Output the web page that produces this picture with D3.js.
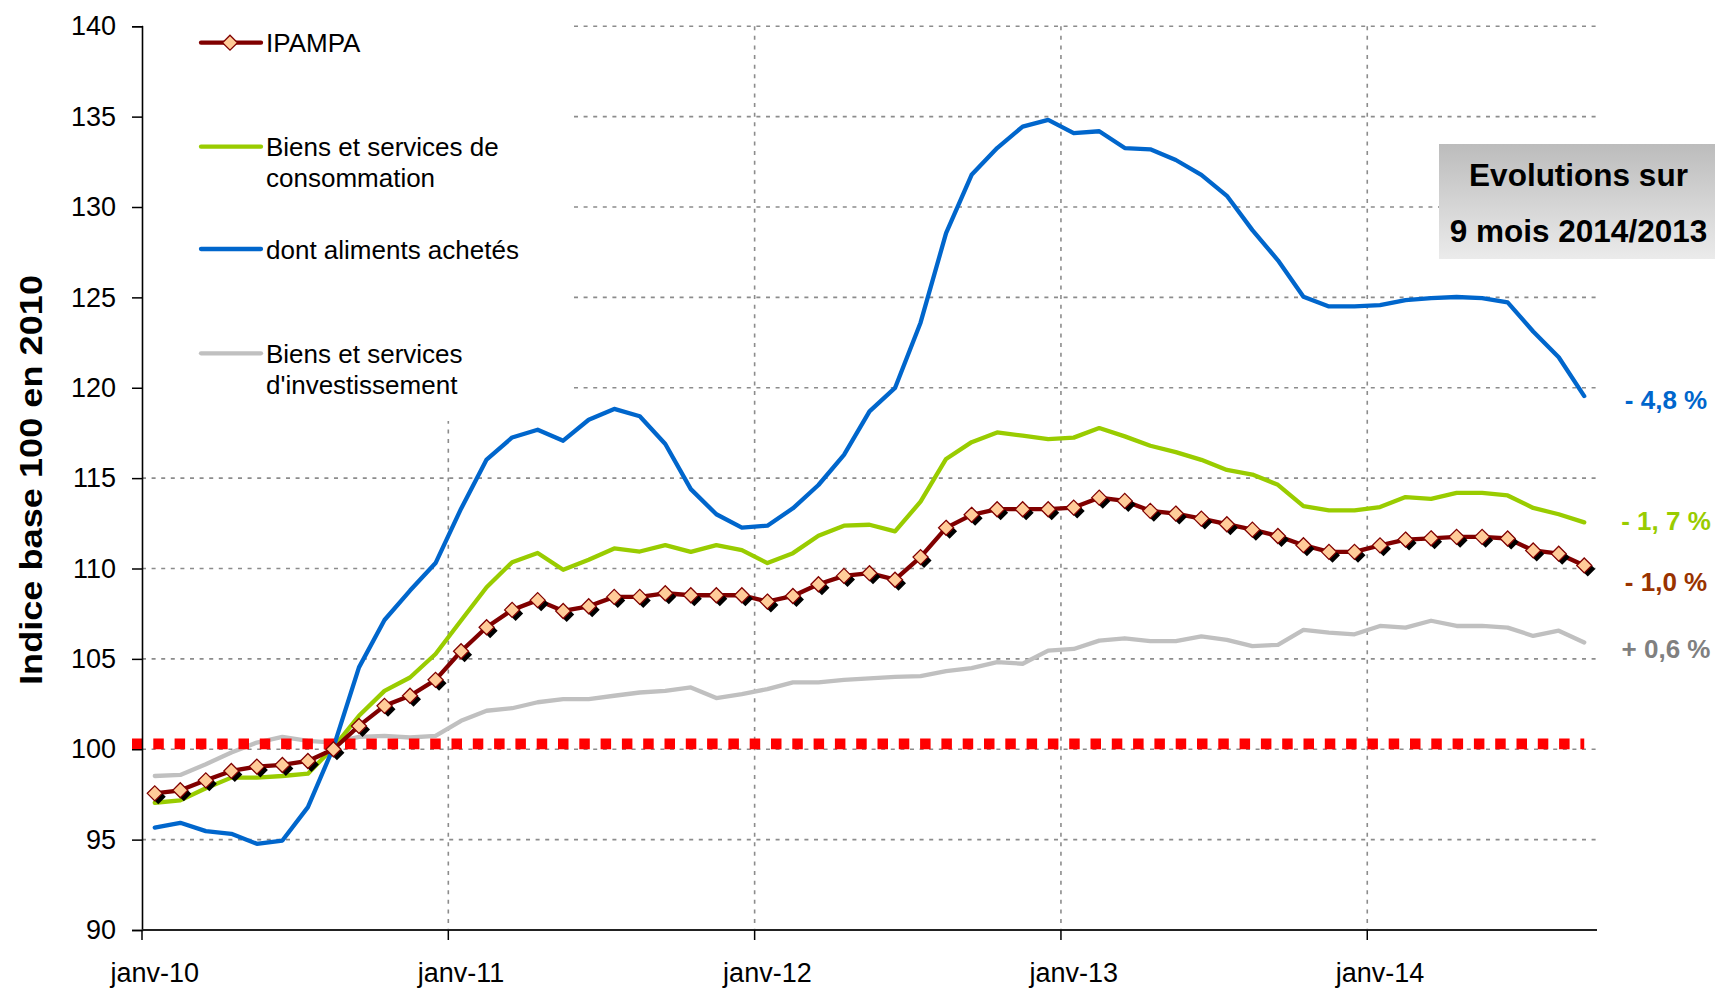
<!DOCTYPE html>
<html>
<head>
<meta charset="utf-8">
<script src="https://cdn.jsdelivr.net/npm/d3@7"></script>
<style>
  html, body { margin: 0; padding: 0; background: #fff; }
  svg { display: block; font-family: "Liberation Sans", Arial, sans-serif; }
</style>
</head>
<body>
<svg id="chart" width="1715" height="989"></svg>
<script>
// ---------------- DATA ----------------
const categories = [
  "janv-10","févr-10","mars-10","avr-10","mai-10","juin-10","juil-10","août-10","sept-10","oct-10","nov-10","déc-10",
  "janv-11","févr-11","mars-11","avr-11","mai-11","juin-11","juil-11","août-11","sept-11","oct-11","nov-11","déc-11",
  "janv-12","févr-12","mars-12","avr-12","mai-12","juin-12","juil-12","août-12","sept-12","oct-12","nov-12","déc-12",
  "janv-13","févr-13","mars-13","avr-13","mai-13","juin-13","juil-13","août-13","sept-13","oct-13","nov-13","déc-13",
  "janv-14","févr-14","mars-14","avr-14","mai-14","juin-14","juil-14","août-14","sept-14"
];

const ipampa = [
  97.56, 97.73, 98.28, 98.80, 99.04, 99.13, 99.35, 100.0, 101.29, 102.40, 102.96, 103.84,
  105.42, 106.75, 107.71, 108.25, 107.65, 107.91, 108.43, 108.43, 108.63, 108.52, 108.52, 108.52,
  108.17, 108.48, 109.13, 109.59, 109.74, 109.38, 110.63, 112.25, 112.97, 113.28, 113.28, 113.28,
  113.37, 113.92, 113.74, 113.19, 113.04, 112.76, 112.45, 112.15, 111.80, 111.29, 110.92, 110.92,
  111.28, 111.60, 111.67, 111.75, 111.75, 111.66, 111.00, 110.82, 110.17
];

const consommation = [
  97.04, 97.17, 97.84, 98.43, 98.43, 98.52, 98.65, 100.10, 101.85, 103.23, 103.97, 105.27,
  107.12, 108.96, 110.35, 110.86, 109.93, 110.48, 111.11, 110.94, 111.29, 110.92, 111.29, 111.02,
  110.30, 110.85, 111.81, 112.37, 112.42, 112.05, 113.70, 116.06, 116.99, 117.53, 117.35, 117.16,
  117.24, 117.77, 117.31, 116.79, 116.44, 116.01, 115.45, 115.20, 114.63, 113.45, 113.22, 113.22,
  113.40, 113.95, 113.85, 114.18, 114.18, 114.04, 113.35, 113.00, 112.55
];

const aliments = [
  95.66, 95.93, 95.47, 95.32, 94.77, 94.95, 96.80, 100.10, 104.53, 107.15, 108.78, 110.30,
  113.31, 116.03, 117.25, 117.68, 117.07, 118.23, 118.83, 118.42, 116.89, 114.39, 113.00, 112.26,
  112.37, 113.33, 114.62, 116.29, 118.69, 119.99, 123.60, 128.55, 131.78, 133.26, 134.45, 134.82,
  134.09, 134.19, 133.26, 133.19, 132.60, 131.78, 130.62, 128.72, 127.05, 125.04, 124.50, 124.50,
  124.57, 124.85, 124.96, 125.02, 124.96, 124.72, 123.11, 121.69, 119.54
];

const investissement = [
  98.52, 98.58, 99.17, 99.82, 100.37, 100.68, 100.46, 100.37, 100.68, 100.74, 100.65, 100.74,
  101.57, 102.13, 102.27, 102.60, 102.77, 102.77, 102.96, 103.14, 103.23, 103.42, 102.83, 103.05,
  103.33, 103.70, 103.70, 103.84, 103.92, 104.00, 104.05, 104.32, 104.49, 104.82, 104.73, 105.46,
  105.55, 106.01, 106.14, 105.98, 105.98, 106.24, 106.05, 105.71, 105.78, 106.60, 106.45, 106.36,
  106.82, 106.73, 107.11, 106.82, 106.82, 106.73, 106.27, 106.56, 105.91
];

const yTicks = [90, 95, 100, 105, 110, 115, 120, 125, 130, 135, 140];
const xTickLabels = ["janv-10", "janv-11", "janv-12", "janv-13", "janv-14"];
const refLevel = 100.3;

const seriesNames = ["IPAMPA", "Biens et services de consommation", "dont aliments achetés", "Biens et services d'investissement"];
const legendLabels = [["IPAMPA"], ["Biens et services de", "consommation"], ["dont aliments achetés"], ["Biens et services", "d'investissement"]];
const boxLines = ["Evolutions sur", "9 mois 2014/2013"];
const endLabels = ["- 4,8 %", "- 1, 7 %", "- 1,0 %", "+ 0,6 %"];
const endLabelLevels = [118.82, 112.12, 108.76, 105.07];

// ---------------- DRAWING ----------------
(function () {
  const W = 1715, H = 989;
  const pLeft = 142, pRight = 1597, pTop = 26.25, pBottom = 930;

  const svg = d3.select("#chart");

  const x = d3.scaleBand().domain(categories).range([pLeft, pRight]).paddingInner(0).paddingOuter(0);
  const cx = c => x(c) + x.bandwidth() / 2;
  const y = d3.scaleLinear().domain([90, 140]).range([pBottom, pTop]);

  const gridColor = "#8c8c8c";

  // horizontal gridlines
  svg.append("g")
    .selectAll("line")
    .data(yTicks.filter(t => t !== 90))
    .join("line")
    .attr("x1", pLeft).attr("x2", pRight)
    .attr("y1", d => y(d)).attr("y2", d => y(d))
    .attr("stroke", gridColor).attr("stroke-width", 1.6)
    .attr("stroke-dasharray", "4,5.6");

  // vertical gridlines at year boundaries
  svg.append("g")
    .selectAll("line")
    .data(xTickLabels.slice(1))
    .join("line")
    .attr("x1", d => x(d)).attr("x2", d => x(d))
    .attr("y1", pTop).attr("y2", pBottom)
    .attr("stroke", gridColor).attr("stroke-width", 1.6)
    .attr("stroke-dasharray", "4,5.6");

  // legend background (hides gridlines)
  svg.append("rect")
    .attr("x", pLeft + 1).attr("y", 0)
    .attr("width", 570 - pLeft - 1).attr("height", 421)
    .attr("fill", "#fff");

  // Evolutions box
  const defs = svg.append("defs");
  const grad = defs.append("linearGradient").attr("id", "boxgrad")
    .attr("x1", 0).attr("y1", 0).attr("x2", 0).attr("y2", 1);
  grad.append("stop").attr("offset", "0%").attr("stop-color", "#bcbcbc");
  grad.append("stop").attr("offset", "100%").attr("stop-color", "#ebebeb");

  svg.append("rect")
    .attr("x", 1439).attr("y", 144)
    .attr("width", W - 1439).attr("height", 115)
    .attr("fill", "url(#boxgrad)");

  svg.append("g").selectAll("text")
    .data(boxLines)
    .join("text")
    .attr("x", 1578.5)
    .attr("y", (d, i) => 185.5 + i * 56)
    .attr("text-anchor", "middle")
    .attr("font-size", 31.5)
    .attr("font-weight", "bold")
    .attr("fill", "#000")
    .text(d => d);

  // ---------------- SERIES ----------------
  const line = d3.line()
    .x((d, i) => cx(categories[i]))
    .y(d => y(d));

  const seriesStyles = [
    { data: ipampa, color: "#800000" },
    { data: consommation, color: "#99CC00" },
    { data: aliments, color: "#0066CC" },
    { data: investissement, color: "#C0C0C0" }
  ];

  function drawLine(data, color) {
    svg.append("path")
      .datum(data)
      .attr("fill", "none")
      .attr("stroke", color)
      .attr("stroke-width", 4.3)
      .attr("stroke-linejoin", "round")
      .attr("stroke-linecap", "round")
      .attr("d", line);
  }

  drawLine(investissement, "#C0C0C0");
  drawLine(consommation, "#99CC00");
  drawLine(aliments, "#0066CC");

  // reference dotted red line at base 100
  svg.append("line")
    .attr("x1", pLeft - 10)
    .attr("x2", cx(categories[categories.length - 1]))
    .attr("y1", y(refLevel)).attr("y2", y(refLevel))
    .attr("stroke", "#FF0000")
    .attr("stroke-width", 10.6)
    .attr("stroke-dasharray", "10.5,10.8");

  drawLine(ipampa, "#800000");

  const diamond = r => `M0,${-r}L${r},0L0,${r}L${-r},0Z`;

  svg.append("g").selectAll("path")
    .data(ipampa)
    .join("path")
    .attr("d", diamond(7.5))
    .attr("transform", (d, i) => `translate(${cx(categories[i]) + 3.5},${y(d) + 3.5})`)
    .attr("fill", "#000");

  svg.append("g").selectAll("path")
    .data(ipampa)
    .join("path")
    .attr("d", diamond(7.5))
    .attr("transform", (d, i) => `translate(${cx(categories[i])},${y(d)})`)
    .attr("fill", "#FFCC99")
    .attr("stroke", "#800000")
    .attr("stroke-width", 1.3);

  // ---------------- AXES ----------------
  const yAxis = d3.axisLeft(y).tickValues(yTicks).tickSize(10).tickPadding(16).tickFormat(d3.format("d"));
  const gy = svg.append("g").attr("transform", `translate(${pLeft},0)`).call(yAxis);
  gy.select(".domain").attr("stroke", "#000").attr("stroke-width", 1.6);
  gy.selectAll(".tick line").attr("stroke", "#000").attr("stroke-width", 1.5);
  gy.selectAll(".tick text")
    .attr("font-family", "Liberation Sans, Arial, sans-serif")
    .attr("font-size", 27)
    .attr("fill", "#000");

  // x axis: labels centred on categories
  const xAxis = d3.axisBottom(x).tickValues(xTickLabels).tickSize(0).tickPadding(0);
  const gx = svg.append("g").attr("transform", `translate(0,${pBottom})`).call(xAxis);
  gx.select(".domain").remove();
  gx.selectAll(".tick text")
    .attr("y", 52).attr("dy", null)
    .attr("font-family", "Liberation Sans, Arial, sans-serif")
    .attr("font-size", 27)
    .attr("fill", "#000");

  // x axis line and boundary tick marks
  svg.append("line")
    .attr("x1", pLeft).attr("x2", pRight)
    .attr("y1", pBottom).attr("y2", pBottom)
    .attr("stroke", "#222").attr("stroke-width", 2.2);
  svg.append("g").selectAll("line")
    .data(xTickLabels)
    .join("line")
    .attr("x1", d => x(d)).attr("x2", d => x(d))
    .attr("y1", pBottom).attr("y2", pBottom + 10)
    .attr("stroke", "#000").attr("stroke-width", 1.5);

  // y-axis title
  svg.append("text")
    .attr("transform", `translate(42,480) rotate(-90)`)
    .attr("text-anchor", "middle")
    .attr("font-size", 31)
    .attr("font-weight", "bold")
    .attr("textLength", 410)
    .attr("lengthAdjust", "spacingAndGlyphs")
    .text("Indice base 100 en 2010");

  // ---------------- LEGEND ----------------
  const legendRowY = [42.7, 146.7, 249, 353.3];
  const lg = svg.append("g");
  seriesStyles.forEach((s, i) => {
    lg.append("line")
      .attr("x1", 201).attr("x2", 261)
      .attr("y1", legendRowY[i]).attr("y2", legendRowY[i])
      .attr("stroke", s.color).attr("stroke-width", 4.3)
      .attr("stroke-linecap", "round");
    if (i === 0) {
      lg.append("path")
        .attr("d", diamond(7.5))
        .attr("transform", `translate(230,${legendRowY[i]})`)
        .attr("fill", "#FFCC99").attr("stroke", "#800000").attr("stroke-width", 1.3);
    }
    lg.append("g").selectAll("text")
      .data(legendLabels[i])
      .join("text")
      .attr("x", 266)
      .attr("y", (d, j) => legendRowY[i] + 9.5 + j * 30.7)
      .attr("font-size", 26)
      .attr("fill", "#000")
      .text(d => d);
  });

  // ---------------- END LABELS ----------------
  const endColors = ["#0066CC", "#99CC00", "#993300", "#808080"];
  svg.append("g").selectAll("text")
    .data(endLabels)
    .join("text")
    .attr("x", 1666)
    .attr("y", (d, i) => y(endLabelLevels[i]))
    .attr("text-anchor", "middle")
    .attr("font-size", 26)
    .attr("font-weight", "bold")
    .attr("fill", (d, i) => endColors[i])
    .text(d => d);
})();
</script>
</body>
</html>
